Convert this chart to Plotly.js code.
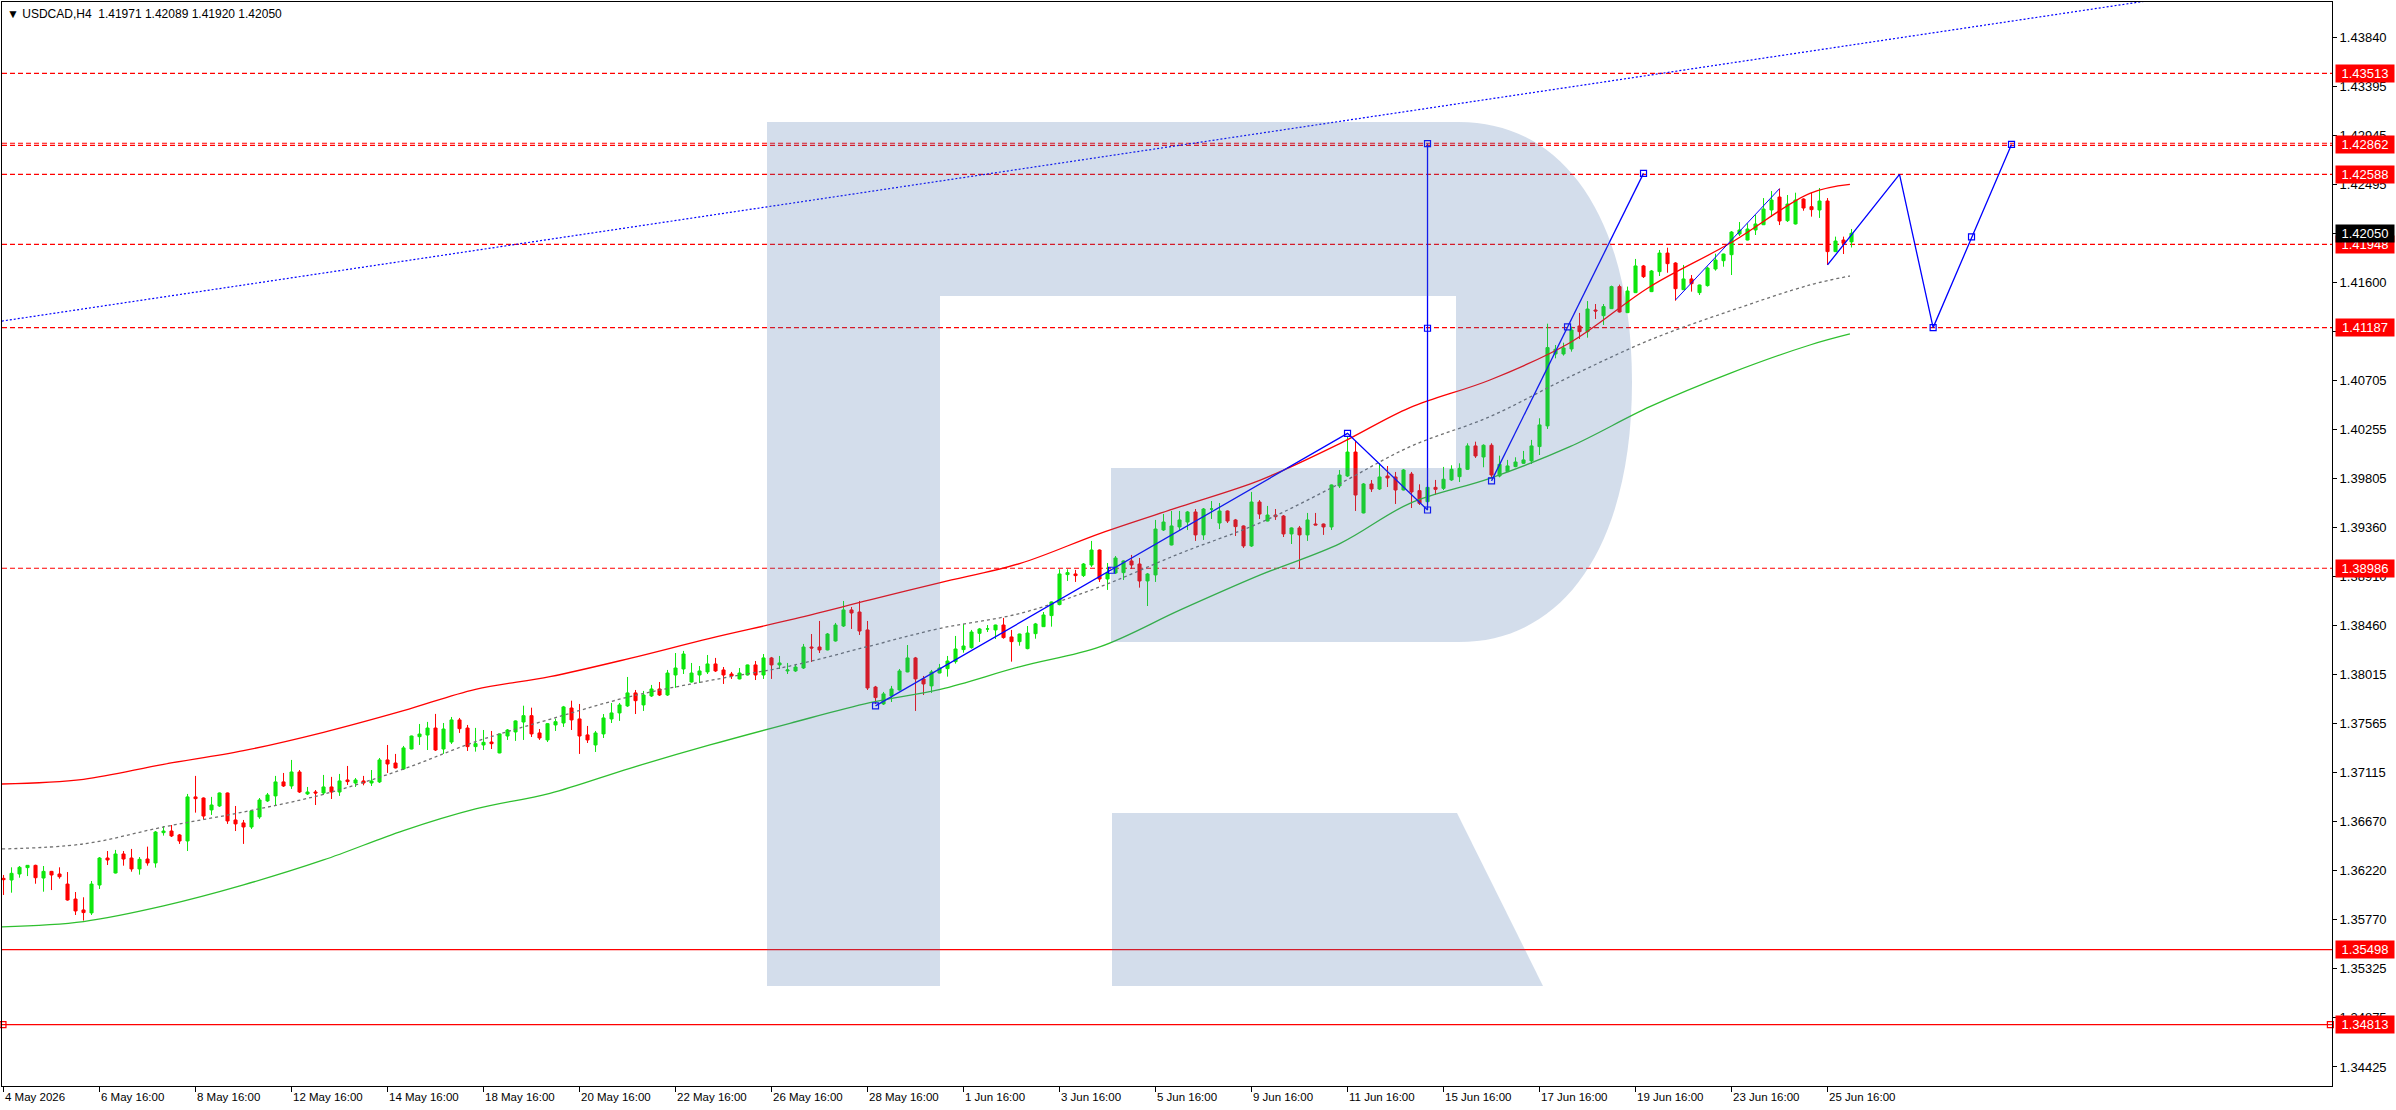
<!DOCTYPE html>
<html>
<head>
<meta charset="utf-8">
<script src="https://cdn.plot.ly/plotly-3.0.1.min.js"></script>
<style>
  html, body { margin: 0; padding: 0; background: #fff; }
  #chart { width: 2396px; height: 1110px; }
</style>
</head>
<body>
<div id="chart"></div>
<script>
// USDCAD H4 - bar index 0 = 4 May 2026 00:00, weekends skipped (6 bars a day)
var firstBar = 4;

var open = [
  1.36150, 1.36135, 1.36190, 1.36248, 1.36269, 1.36153, 1.36214, 1.36190, 1.36098, 1.35961,
  1.35861, 1.35834, 1.36089, 1.36336, 1.36199, 1.36373, 1.36336, 1.36236, 1.36327, 1.36291,
  1.36568, 1.36583, 1.36547, 1.36492, 1.36895, 1.36885, 1.36776, 1.36812, 1.36931, 1.36684,
  1.36657, 1.36620, 1.36712, 1.36858, 1.36904, 1.37032, 1.36995, 1.37123, 1.36922, 1.36940,
  1.36931, 1.36986, 1.36940, 1.37050, 1.37022, 1.37041, 1.37022, 1.37032, 1.37233, 1.37205,
  1.37150, 1.37333, 1.37446, 1.37461, 1.37525, 1.37333, 1.37397, 1.37599, 1.37525, 1.37355,
  1.37370, 1.37397, 1.37297, 1.37452, 1.37489, 1.37580, 1.37638, 1.37480, 1.37416, 1.37553,
  1.37571, 1.37708, 1.37608, 1.37462, 1.37370, 1.37471, 1.37608, 1.37663, 1.37727, 1.37846,
  1.37736, 1.37818, 1.37882, 1.37827, 1.38010, 1.38065, 1.37946, 1.38010, 1.38038, 1.38111,
  1.38056, 1.38019, 1.37974, 1.38010, 1.38102, 1.38010, 1.38166, 1.38102, 1.38047, 1.38047,
  1.38074, 1.38266, 1.38266, 1.38239, 1.38321, 1.38458, 1.38605, 1.38586, 1.38422, 1.37900,
  1.37745, 1.37818, 1.37873, 1.38038, 1.38166, 1.37974, 1.37910, 1.38028, 1.38068, 1.38132,
  1.38242, 1.38260, 1.38391, 1.38431, 1.38422, 1.38467, 1.38358, 1.38315, 1.38251, 1.38388,
  1.38452, 1.38553, 1.38654, 1.38928, 1.38934, 1.38919, 1.39016, 1.39153, 1.38888, 1.38943,
  1.38946, 1.39053, 1.39025, 1.38870, 1.38925, 1.39336, 1.39199, 1.39364, 1.39409, 1.39501,
  1.39291, 1.39528, 1.39400, 1.39510, 1.39428, 1.39373, 1.39190, 1.39592, 1.39418, 1.39473,
  1.39464, 1.39300, 1.39355, 1.39291, 1.39391, 1.39391, 1.39364, 1.39739, 1.39830, 1.40049,
  1.39492, 1.39757, 1.39711, 1.39830, 1.39821, 1.39702, 1.39848, 1.39696, 1.39595, 1.39726,
  1.39717, 1.39794, 1.39824, 1.39891, 1.40105, 1.40004, 1.40111, 1.39830, 1.39870, 1.39916,
  1.39946, 1.39968, 1.40099, 1.40288, 1.40946, 1.40946, 1.40992, 1.41202, 1.41150, 1.41348,
  1.41296, 1.41360, 1.41562, 1.41324, 1.41507, 1.41751, 1.41516, 1.41699, 1.41869, 1.41778,
  1.41534, 1.41632, 1.41507, 1.41571, 1.41723, 1.41799, 1.41854, 1.42043, 1.41988, 1.42080,
  1.42128, 1.42263, 1.42381, 1.42165, 1.42135, 1.42363, 1.42293, 1.42263, 1.42345, 1.41882,
  1.41988, 1.41971
];
var high = [
  1.36181, 1.36251, 1.36263, 1.36272, 1.36275, 1.36263, 1.36218, 1.36251, 1.36208, 1.36025,
  1.35977, 1.36126, 1.36345, 1.36400, 1.36410, 1.36400, 1.36419, 1.36345, 1.36440, 1.36583,
  1.36629, 1.36638, 1.36556, 1.36922, 1.37087, 1.36890, 1.36895, 1.36935, 1.36935, 1.36812,
  1.36684, 1.36770, 1.36885, 1.36931, 1.37087, 1.37114, 1.37233, 1.37141, 1.36986, 1.36958,
  1.37096, 1.37078, 1.37105, 1.37178, 1.37068, 1.37087, 1.37141, 1.37251, 1.37370, 1.37288,
  1.37361, 1.37455, 1.37562, 1.37581, 1.37654, 1.37571, 1.37626, 1.37617, 1.37553, 1.37526,
  1.37507, 1.37498, 1.37475, 1.37516, 1.37595, 1.37729, 1.37711, 1.37516, 1.37571, 1.37611,
  1.37727, 1.37775, 1.37745, 1.37544, 1.37498, 1.37653, 1.37754, 1.37754, 1.37992, 1.37873,
  1.37864, 1.37919, 1.37946, 1.38056, 1.38211, 1.38230, 1.38120, 1.38092, 1.38193, 1.38166,
  1.38083, 1.38038, 1.38074, 1.38105, 1.38138, 1.38202, 1.38175, 1.38184, 1.38120, 1.38111,
  1.38294, 1.38385, 1.38504, 1.38394, 1.38486, 1.38687, 1.38632, 1.38687, 1.38504, 1.37910,
  1.37855, 1.37910, 1.38065, 1.38284, 1.38175, 1.38001, 1.38056, 1.38111, 1.38184, 1.38367,
  1.38477, 1.38422, 1.38440, 1.38467, 1.38470, 1.38532, 1.38422, 1.38388, 1.38458, 1.38486,
  1.38586, 1.38682, 1.38977, 1.38977, 1.38971, 1.39034, 1.39236, 1.39158, 1.39034, 1.39098,
  1.39058, 1.39108, 1.39080, 1.38943, 1.39428, 1.39483, 1.39510, 1.39510, 1.39510, 1.39528,
  1.39537, 1.39601, 1.39583, 1.39515, 1.39437, 1.39378, 1.39684, 1.39610, 1.39556, 1.39528,
  1.39473, 1.39360, 1.39373, 1.39492, 1.39492, 1.39395, 1.39752, 1.39885, 1.40187, 1.40150,
  1.39766, 1.39793, 1.39949, 1.39921, 1.39867, 1.39894, 1.39867, 1.39754, 1.39748, 1.39794,
  1.39913, 1.39928, 1.39946, 1.40129, 1.40144, 1.40120, 1.40129, 1.40016, 1.39977, 1.40001,
  1.40059, 1.40160, 1.40358, 1.41223, 1.41028, 1.41049, 1.41196, 1.41321, 1.41430, 1.41403,
  1.41403, 1.41571, 1.41580, 1.41562, 1.41815, 1.41760, 1.41714, 1.41897, 1.41918, 1.41785,
  1.41760, 1.41668, 1.41580, 1.41745, 1.41863, 1.41863, 1.42070, 1.42153, 1.42141, 1.42217,
  1.42372, 1.42436, 1.42458, 1.42400, 1.42421, 1.42370, 1.42421, 1.42464, 1.42372, 1.42019,
  1.42019, 1.42089
];
var low = [
  1.35998, 1.36019, 1.36156, 1.36171, 1.36101, 1.36028, 1.36043, 1.36147, 1.35946, 1.35815,
  1.35764, 1.35815, 1.36053, 1.36272, 1.36195, 1.36266, 1.36211, 1.36184, 1.36266, 1.36248,
  1.36541, 1.36528, 1.36465, 1.36400, 1.36751, 1.36690, 1.36730, 1.36803, 1.36648, 1.36583,
  1.36465, 1.36602, 1.36694, 1.36849, 1.36812, 1.36986, 1.36968, 1.36931, 1.36913, 1.36821,
  1.36913, 1.36876, 1.36904, 1.37004, 1.36986, 1.37001, 1.36995, 1.37022, 1.37114, 1.37155,
  1.37141, 1.37330, 1.37370, 1.37324, 1.37315, 1.37288, 1.37379, 1.37480, 1.37315, 1.37309,
  1.37324, 1.37333, 1.37294, 1.37416, 1.37407, 1.37416, 1.37443, 1.37416, 1.37397, 1.37498,
  1.37535, 1.37507, 1.37288, 1.37388, 1.37306, 1.37434, 1.37571, 1.37590, 1.37718, 1.37653,
  1.37681, 1.37809, 1.37818, 1.37818, 1.37892, 1.38019, 1.37940, 1.37937, 1.38019, 1.38038,
  1.37928, 1.37974, 1.37970, 1.38005, 1.37964, 1.37974, 1.37974, 1.38065, 1.38019, 1.38038,
  1.38065, 1.38129, 1.38211, 1.38235, 1.38315, 1.38449, 1.38431, 1.38376, 1.37873, 1.37745,
  1.37736, 1.37763, 1.37868, 1.38035, 1.37681, 1.37827, 1.37846, 1.38025, 1.37995, 1.38114,
  1.38214, 1.38251, 1.38312, 1.38403, 1.38339, 1.38342, 1.38132, 1.38278, 1.38245, 1.38342,
  1.38449, 1.38452, 1.38647, 1.38870, 1.38861, 1.38906, 1.38998, 1.38861, 1.38788, 1.38934,
  1.38879, 1.38980, 1.38809, 1.38641, 1.38861, 1.39327, 1.39195, 1.39336, 1.39336, 1.39236,
  1.39245, 1.39437, 1.39345, 1.39400, 1.39281, 1.39172, 1.39181, 1.39437, 1.39415, 1.39428,
  1.39272, 1.39208, 1.38980, 1.39236, 1.39380, 1.39291, 1.39336, 1.39720, 1.39821, 1.39510,
  1.39488, 1.39684, 1.39702, 1.39729, 1.39574, 1.39698, 1.39537, 1.39565, 1.39565, 1.39657,
  1.39702, 1.39785, 1.39775, 1.39885, 1.39995, 1.39910, 1.39809, 1.39818, 1.39867, 1.39910,
  1.39940, 1.39940, 1.40022, 1.40260, 1.40906, 1.40931, 1.40967, 1.41083, 1.41095, 1.41266,
  1.41211, 1.41357, 1.41325, 1.41320, 1.41503, 1.41641, 1.41512, 1.41659, 1.41689, 1.41433,
  1.41531, 1.41516, 1.41485, 1.41562, 1.41708, 1.41744, 1.41668, 1.42025, 1.41985, 1.42034,
  1.42125, 1.42199, 1.42125, 1.42153, 1.42130, 1.42256, 1.42202, 1.42190, 1.41760, 1.41878,
  1.41860, 1.41920
];
var close = [
  1.36138, 1.36196, 1.36251, 1.36269, 1.36156, 1.36214, 1.36181, 1.36165, 1.35952, 1.35852,
  1.35837, 1.36098, 1.36336, 1.36318, 1.36373, 1.36327, 1.36236, 1.36324, 1.36291, 1.36574,
  1.36583, 1.36538, 1.36492, 1.36895, 1.36879, 1.36720, 1.36821, 1.36931, 1.36675, 1.36648,
  1.36620, 1.36767, 1.36867, 1.36913, 1.37032, 1.36995, 1.37123, 1.36940, 1.36940, 1.36931,
  1.36986, 1.36940, 1.37041, 1.37035, 1.37050, 1.37022, 1.37041, 1.37233, 1.37196, 1.37160,
  1.37343, 1.37452, 1.37470, 1.37525, 1.37324, 1.37516, 1.37599, 1.37519, 1.37355, 1.37382,
  1.37394, 1.37382, 1.37471, 1.37507, 1.37590, 1.37638, 1.37471, 1.37434, 1.37565, 1.37583,
  1.37718, 1.37599, 1.37452, 1.37416, 1.37480, 1.37617, 1.37663, 1.37736, 1.37846, 1.37775,
  1.37827, 1.37882, 1.37827, 1.38028, 1.38074, 1.38202, 1.38028, 1.38047, 1.38111, 1.38047,
  1.38010, 1.38001, 1.38028, 1.38102, 1.38010, 1.38166, 1.38102, 1.38120, 1.38056, 1.38083,
  1.38266, 1.38257, 1.38239, 1.38385, 1.38467, 1.38605, 1.38577, 1.38412, 1.37891, 1.37803,
  1.37837, 1.37882, 1.38047, 1.38166, 1.37974, 1.37928, 1.38038, 1.38074, 1.38138, 1.38248,
  1.38275, 1.38403, 1.38431, 1.38431, 1.38467, 1.38352, 1.38315, 1.38385, 1.38394, 1.38477,
  1.38559, 1.38678, 1.38934, 1.38946, 1.38919, 1.39025, 1.39153, 1.38888, 1.38943, 1.39080,
  1.39053, 1.39016, 1.38870, 1.38934, 1.39345, 1.39409, 1.39373, 1.39428, 1.39501, 1.39291,
  1.39528, 1.39528, 1.39510, 1.39418, 1.39367, 1.39190, 1.39592, 1.39482, 1.39473, 1.39458,
  1.39300, 1.39355, 1.39291, 1.39428, 1.39382, 1.39364, 1.39748, 1.39839, 1.40049, 1.39656,
  1.39757, 1.39711, 1.39821, 1.39812, 1.39702, 1.39885, 1.39684, 1.39580, 1.39726, 1.39708,
  1.39800, 1.39891, 1.39900, 1.40105, 1.40013, 1.40111, 1.39839, 1.39937, 1.39922, 1.39958,
  1.39977, 1.40105, 1.40297, 1.41004, 1.40989, 1.41001, 1.41165, 1.41150, 1.41357, 1.41339,
  1.41379, 1.41562, 1.41330, 1.41522, 1.41751, 1.41653, 1.41705, 1.41869, 1.41772, 1.41543,
  1.41632, 1.41589, 1.41577, 1.41732, 1.41805, 1.41860, 1.42061, 1.42080, 1.42089, 1.42135,
  1.42272, 1.42354, 1.42162, 1.42317, 1.42354, 1.42281, 1.42266, 1.42345, 1.41882, 1.41979,
  1.41958, 1.42050
];

// regression channel (upper / middle / lower), read at these bar positions
var chanIdx   = [3.8, 14, 24, 34, 44, 54, 63, 72.3, 82.3, 92.3, 102.3, 112.3, 121.1, 131.1, 141.1, 151.1, 161.1, 171.1, 179.8, 189.8, 199.8, 209.8, 219.8, 229.8, 234.8];
var chanUpper = [1.37013, 1.37056, 1.37193, 1.37318, 1.37486, 1.37684, 1.37879, 1.37995, 1.38162, 1.38345, 1.38513, 1.38696, 1.38855, 1.39031, 1.39306, 1.39550, 1.39793, 1.40129, 1.40455, 1.40708, 1.41049, 1.41561, 1.41958, 1.42415, 1.42497];
var chanMid   = [1.36419, 1.36465, 1.36620, 1.36757, 1.36919, 1.37150, 1.37400, 1.37605, 1.37812, 1.37960, 1.38092, 1.38275, 1.38437, 1.38574, 1.38818, 1.39123, 1.39403, 1.39763, 1.40098, 1.40373, 1.40738, 1.41074, 1.41339, 1.41577, 1.41659];
var chanLower = [1.35706, 1.35755, 1.35898, 1.36090, 1.36318, 1.36587, 1.36785, 1.36928, 1.37157, 1.37370, 1.37568, 1.37757, 1.37879, 1.38087, 1.38269, 1.38605, 1.38925, 1.39214, 1.39580, 1.39809, 1.40098, 1.40464, 1.40769, 1.41028, 1.41129];

// long blue dotted trend line
var trendIdx = [3.8, 280];
var trendPx  = [1.41247, 1.44263];

// blue drawing lines (waves and forecast)
var waveAIdx = [113, 172, 182, 182];
var waveAPx  = [1.37727, 1.40220, 1.39519, 1.42870];
var waveBIdx = [190, 209];
var waveBPx  = [1.39785, 1.42598];
var waveCIdx = [213, 226];
var waveCPx  = [1.41440, 1.42458];
var forecastIdx = [232, 241, 245.2, 255];
var forecastPx  = [1.41760, 1.42588, 1.41187, 1.42862];
var markIdx = [113, 142.5, 172, 182, 182, 182, 190, 199.5, 209, 245.2, 250, 255];
var markPx  = [1.37727, 1.38968, 1.40220, 1.39519, 1.41181, 1.42870, 1.39785, 1.41193, 1.42598, 1.41187, 1.42017, 1.42862];

var tickIdx = [4, 16, 28, 40, 52, 64, 76, 88, 100, 112, 124, 136, 148, 160, 172, 184, 196, 208, 220, 232];
var tickLabels = ['4 May 2026', '6 May 16:00', '8 May 16:00', '12 May 16:00', '14 May 16:00', '18 May 16:00',
  '20 May 16:00', '22 May 16:00', '26 May 16:00', '28 May 16:00', '1 Jun 16:00', '3 Jun 16:00', '5 Jun 16:00',
  '9 Jun 16:00', '11 Jun 16:00', '15 Jun 16:00', '17 Jun 16:00', '19 Jun 16:00', '23 Jun 16:00', '25 Jun 16:00'];
var priceTicks = [1.43840, 1.43395, 1.42945, 1.42495, 1.42050, 1.41600, 1.41150, 1.40705, 1.40255, 1.39805, 1.39360,
  1.38910, 1.38460, 1.38015, 1.37565, 1.37115, 1.36670, 1.36220, 1.35770, 1.35325, 1.34875, 1.34425];

var dashedLevels = [1.43513, 1.42873, 1.42853, 1.42588, 1.41948, 1.41187, 1.38986];
var solidLevels = [1.35498, 1.34813];
var labelLevels = [1.43513, 1.42862, 1.42588, 1.41948, 1.41187, 1.38986, 1.35498, 1.34813];

var xRange = [3.81, 295.06];
var yRange = [1.34251, 1.44165];

// page geometry
var W = 2396, H = 1110, ML = 2, MR = 64, MT = 2, MB = 24;

var bars = open.map(function (_, k) { return firstBar + k; });
var last = open.length - 1;

var data = [
  { type: 'scatter', mode: 'lines', x: chanIdx, y: chanLower, line: { color: '#2fbf2f', width: 1.3, shape: 'spline', smoothing: 1 }, hoverinfo: 'skip' },
  { type: 'scatter', mode: 'lines', x: chanIdx, y: chanMid, line: { color: '#707070', width: 1.3, dash: '3px,3px', shape: 'spline', smoothing: 1 }, hoverinfo: 'skip' },
  { type: 'scatter', mode: 'lines', x: chanIdx, y: chanUpper, line: { color: '#ff0000', width: 1.3, shape: 'spline', smoothing: 1 }, hoverinfo: 'skip' },
  { type: 'scatter', mode: 'lines', x: trendIdx, y: trendPx, line: { color: '#0000ff', width: 1.2, dash: '2px,2px' }, hoverinfo: 'skip' },
  {
    type: 'candlestick', x: bars, open: open, high: high, low: low, close: close,
    increasing: { line: { color: '#0ee60e', width: 1 }, fillcolor: '#0ee60e' },
    decreasing: { line: { color: '#ff0000', width: 1 }, fillcolor: '#ff0000' },
    whiskerwidth: 0, hoverinfo: 'skip'
  },
  { type: 'scatter', mode: 'lines', x: waveAIdx, y: waveAPx, line: { color: '#0000ff', width: 1.3 }, hoverinfo: 'skip' },
  { type: 'scatter', mode: 'lines', x: waveBIdx, y: waveBPx, line: { color: '#0000ff', width: 1.3 }, hoverinfo: 'skip' },
  { type: 'scatter', mode: 'lines', x: waveCIdx, y: waveCPx, line: { color: '#0000ff', width: 1 }, hoverinfo: 'skip' },
  { type: 'scatter', mode: 'lines', x: forecastIdx, y: forecastPx, line: { color: '#0000ff', width: 1.3 }, hoverinfo: 'skip' },
  { type: 'scatter', mode: 'markers', x: markIdx, y: markPx, marker: { symbol: 'square-open', size: 6, color: '#0000ff', line: { width: 1.2 } }, hoverinfo: 'skip' },
  { type: 'scatter', mode: 'markers', x: [xRange[0] + 0.12, xRange[1] - 0.2], y: [solidLevels[1], solidLevels[1]],
    marker: { symbol: 'square-open', size: 6, color: '#ff0000', line: { width: 1.2 } }, hoverinfo: 'skip', cliponaxis: false }
];

// watermark logo, outline given in page pixels
function px(x) { return ((x - ML) / (W - ML - MR)).toFixed(5); }
function py(y) { return (1 - (y - MT) / (H - MT - MB)).toFixed(5); }
function toPath(segs) {
  return segs.map(function (s) {
    var out = s[0];
    for (var k = 1; k < s.length; k += 2) out += (k > 1 ? ' ' : '') + px(s[k]) + ',' + py(s[k + 1]);
    return out;
  }).join(' ') + ' Z';
}
var logoBody = [['M', 767, 122], ['L', 1459, 122], ['C', 1565, 122, 1632, 220, 1632, 382], ['C', 1632, 544, 1565, 642, 1459, 642],
  ['L', 1111, 642], ['L', 1111, 468], ['L', 1456, 468], ['L', 1456, 296], ['L', 940, 296], ['L', 940, 986], ['L', 767, 986]];
var logoLeg = [['M', 1112, 813], ['L', 1457, 813], ['L', 1543, 986], ['L', 1112, 986]];

var shapes = [];
dashedLevels.forEach(function (v) {
  shapes.push({ type: 'line', xref: 'paper', x0: 0, x1: 1, yref: 'y', y0: v, y1: v, layer: 'below',
    line: { color: '#ff0000', width: 1.2, dash: '5px,3px' } });
});
solidLevels.forEach(function (v) {
  shapes.push({ type: 'line', xref: 'paper', x0: 0, x1: 1, yref: 'y', y0: v, y1: v, layer: 'below',
    line: { color: '#ff0000', width: 1.2 } });
});
[logoBody, logoLeg].forEach(function (segs) {
  shapes.push({ type: 'path', xref: 'paper', yref: 'paper', path: toPath(segs), layer: 'above',
    fillcolor: 'rgb(74,115,173)', opacity: 0.243, line: { width: 0 } });
});

var annotations = [];
tickIdx.forEach(function (t, k) {
  annotations.push({ xref: 'x', x: t, yref: 'paper', y: 0, xanchor: 'left', yanchor: 'top', yshift: -3, xshift: -1,
    text: tickLabels[k], showarrow: false, font: { size: 11.5, color: '#000' } });
});
labelLevels.forEach(function (v) {
  annotations.push({ xref: 'paper', x: 1, xanchor: 'left', xshift: 3, yref: 'y', y: v, yanchor: 'middle',
    text: v.toFixed(5), showarrow: false, bgcolor: '#ff0000', borderpad: 1, width: 56,
    font: { size: 13, color: '#fff' } });
});
annotations.push({ xref: 'paper', x: 1, xanchor: 'left', xshift: 3, yref: 'y', y: close[last], yanchor: 'middle',
  text: close[last].toFixed(5), showarrow: false, bgcolor: '#000', borderpad: 1, width: 56,
  font: { size: 13, color: '#fff' } });
annotations.push({ xref: 'paper', x: 0, xanchor: 'left', xshift: 3, yref: 'paper', y: 1, yanchor: 'top', yshift: -3,
  text: '\u25BC USDCAD,H4  ' + [open[last], high[last], low[last], close[last]].map(function (v) { return v.toFixed(5); }).join(' '),
  showarrow: false, font: { size: 12, color: '#000' } });

var layout = {
  width: W, height: H,
  margin: { l: ML, r: MR, t: MT, b: MB, pad: 0 },
  paper_bgcolor: '#ffffff', plot_bgcolor: '#ffffff',
  showlegend: false,
  boxgap: 0.45,
  font: { family: 'Liberation Sans, Arial, sans-serif', size: 13, color: '#000' },
  xaxis: {
    range: xRange, showgrid: false, zeroline: false, showline: true, mirror: true,
    linecolor: '#000', linewidth: 1, ticks: 'outside', ticklen: 5, tickcolor: '#000',
    tickvals: tickIdx, showticklabels: false, rangeslider: { visible: false }, automargin: false
  },
  yaxis: {
    range: yRange, side: 'right', showgrid: false, zeroline: false, showline: true, mirror: true,
    linecolor: '#000', linewidth: 1, ticks: 'outside', ticklen: 4, tickcolor: '#000',
    tickvals: priceTicks, ticktext: priceTicks.map(function (v) { return v.toFixed(5); }),
    tickfont: { size: 13 }, automargin: false
  },
  shapes: shapes,
  annotations: annotations
};

Plotly.newPlot('chart', data, layout, { displayModeBar: false, staticPlot: true });
</script>
</body>
</html>
